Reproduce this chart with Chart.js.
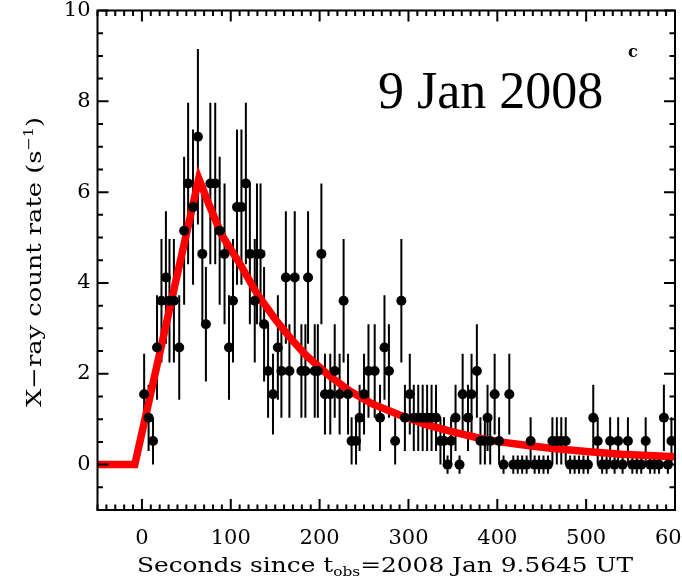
<!DOCTYPE html>
<html>
<head>
<meta charset="utf-8">
<script src="https://cdn.jsdelivr.net/npm/chart.js@4.4.0/dist/chart.umd.min.js"></script>
<style>
  html, body { margin: 0; padding: 0; background: #fff; }
</style>
</head>
<body>
<canvas id="lc" width="682" height="578"></canvas>
<script>
// light curve points (seconds, counts/s)
const timeSec = [2.5, 7.5, 12.5, 17, 22, 27, 31, 36, 42, 47.5, 52, 57.5, 63, 68, 72, 77, 82.5, 87.5, 93, 98,
  102.5, 107, 112, 117, 121.5, 127, 129.5, 133.5, 137.5, 142, 147.5, 153, 157, 162, 166, 172, 179.5, 184, 187, 194.5,
  198, 202, 206, 212, 217, 222.5, 227, 232, 236, 241, 245, 250, 255, 262, 268, 273, 278, 285, 292, 296,
  301.5, 306, 311, 316, 321, 326, 331, 336, 340, 344, 348, 353, 357.5, 361, 367, 371, 377, 381, 386, 389,
  392, 397, 402, 407, 413.5, 418, 423, 428, 433, 437.5, 442, 447, 452, 457, 462, 467, 472, 477, 482, 487,
  492, 497, 502, 508, 513, 518, 523, 527, 532, 536, 541, 547, 552, 557, 562, 567, 572, 577, 582, 587.5,
  592, 596];
const countRate = [1.55, 1.03, 0.52, 2.58, 3.61, 4.12, 3.61, 3.61, 2.58, 5.15, 6.19, 5.67, 7.22, 4.64, 3.09, 6.19, 6.19, 5.15, 4.64, 2.58,
  3.61, 5.67, 5.67, 6.19, 4.64, 3.61, 4.64, 4.64, 3.09, 2.06, 1.55, 2.58, 2.06, 4.12, 2.06, 4.12, 2.06, 2.06, 4.12, 2.06,
  2.06, 4.64, 1.55, 1.55, 2.06, 1.55, 3.61, 1.55, 0.52, 0.52, 1.03, 1.55, 2.06, 2.06, 1.03, 2.58, 2.06, 0.52, 3.61, 1.03,
  1.55, 1.03, 1.03, 1.03, 1.03, 1.03, 1.03, 0.52, 0.52, 0, 0.52, 1.03, 0, 1.55, 1.03, 1.55, 2.06, 0.52, 0.52, 1.03,
  0.52, 1.55, 0.52, 0, 1.55, 0, 0, 0, 0, 0.52, 0, 0, 0, 0, 0.52, 0.52, 0.52, 0.52, 0, 0,
  0, 0, 0, 1.03, 0.52, 0, 0, 0.52, 0, 0.52, 0, 0.52, 0, 0, 0, 0.52, 0, 0, 0, 1.03,
  0, 0.52];

// error bar half-length for each count-rate level
const rateLevels = [0, 0.52, 1.03, 1.55, 2.06, 2.58, 3.09, 3.61, 4.12, 4.64, 5.15, 5.67, 6.19, 7.22];
const rateErrors = [0.2, 0.52, 0.73, 0.89, 1.03, 1.15, 1.26, 1.36, 1.46, 1.55, 1.63, 1.71, 1.78, 1.93];
const binHalfWidth = 3;

// red model curve
const modelTime = [-50, -8, 64, 75, 90, 110, 130, 150, 170, 185, 210, 234, 260, 290, 320, 350, 380, 403, 430, 460, 500, 540, 570, 600];
const modelRate = [0, 0, 6.3, 5.75, 5.05, 4.43, 3.75, 3.2, 2.72, 2.4, 1.97, 1.62, 1.33, 1.09, 0.88, 0.72, 0.58, 0.5, 0.43, 0.36, 0.29, 0.23, 0.2, 0.17];

const xRange = [-50, 600];
const yRange = [-1, 10];

const labelFont = 'DejaVu Serif';

function errFor(rate) {
    let best = 0;
    rateLevels.forEach((lv, i) => {
        if (Math.abs(lv - rate) < Math.abs(rateLevels[best] - rate)) best = i;
    });
    return rateErrors[best];
}

// draws a string with a small raised/lowered part, squeezed to a target width
function drawMixed(ctx, parts, size, targetW) {
    const widths = parts.map(p => {
        ctx.font = (p.small ? size * 0.62 : size) + 'px "' + labelFont + '"';
        return ctx.measureText(p.t).width;
    });
    const total = widths.reduce((a, b) => a + b, 0);
    const sx = targetW / total;
    ctx.scale(sx, 1);
    let x = -total / 2;
    parts.forEach((p, i) => {
        ctx.font = (p.small ? size * 0.62 : size) + 'px "' + labelFont + '"';
        ctx.fillText(p.t, x, p.dy || 0);
        x += widths[i];
    });
}

const framePlugin = {
    id: 'frame',
    beforeDatasetsDraw(chart) {
        const { ctx, scales: { x, y } } = chart;
        ctx.save();
        ctx.strokeStyle = '#000';
        ctx.lineWidth = 2;
        ctx.beginPath();
        timeSec.forEach((t, i) => {
            const px = x.getPixelForValue(t);
            const e = errFor(countRate[i]);
            ctx.moveTo(px, y.getPixelForValue(countRate[i] - e));
            ctx.lineTo(px, y.getPixelForValue(countRate[i] + e));
            const py = y.getPixelForValue(countRate[i]);
            ctx.moveTo(x.getPixelForValue(t - binHalfWidth), py);
            ctx.lineTo(x.getPixelForValue(t + binHalfWidth), py);
        });
        ctx.stroke();
        ctx.restore();
    },
    afterDraw(chart) {
        const { ctx, chartArea: a, scales: { x, y } } = chart;
        ctx.save();
        ctx.strokeStyle = '#000';
        ctx.lineWidth = 2;
        ctx.strokeRect(a.left, a.top, a.right - a.left, a.bottom - a.top);

        // inward ticks on all four sides
        ctx.beginPath();
        for (let v = -50; v <= 600; v += 10) {
            const px = x.getPixelForValue(v);
            const len = v % 100 === 0 ? 11 : 5.5;
            ctx.moveTo(px, a.bottom); ctx.lineTo(px, a.bottom - len);
            ctx.moveTo(px, a.top); ctx.lineTo(px, a.top + len);
        }
        for (let v = -1; v <= 10; v += 0.5) {
            const py = y.getPixelForValue(v);
            const len = v % 2 === 0 ? 11 : 5.5;
            ctx.moveTo(a.left, py); ctx.lineTo(a.left + len, py);
            ctx.moveTo(a.right, py); ctx.lineTo(a.right - len, py);
        }
        ctx.stroke();

        ctx.fillStyle = '#000';
        ctx.textBaseline = 'alphabetic';

        // x title
        ctx.save();
        ctx.translate(385, 572);
        drawMixed(ctx, [
            { t: 'Seconds since t' },
            { t: 'obs', small: true, dy: 4 },
            { t: '=2008 Jan 9.5645 UT' }
        ], 21, 496);
        ctx.restore();

        // y title
        ctx.save();
        ctx.translate(41, 262);
        ctx.rotate(-Math.PI / 2);
        drawMixed(ctx, [
            { t: 'X\u2212ray count rate (s' },
            { t: '\u22121', small: true, dy: -8 },
            { t: ')' }
        ], 21, 290);
        ctx.restore();

        // panel annotations
        ctx.font = '52px "Liberation Serif"';
        ctx.textAlign = 'left';
        ctx.fillText('9 Jan 2008', 378, 108);
        ctx.font = 'bold 16px "' + labelFont + '"';
        ctx.fillText('c', 628, 57);
        ctx.restore();
    }
};

const ctx = document.getElementById('lc').getContext('2d');

new Chart(ctx, {
    type: 'scatter',
    data: {
        datasets: [{
            label: 'X-ray count rate',
            data: timeSec.map((t, i) => ({ x: t, y: countRate[i] })),
            pointRadius: 5,
            pointBackgroundColor: '#000',
            pointBorderWidth: 0
        }, {
            type: 'line',
            label: 'model',
            data: modelTime.map((t, i) => ({ x: t, y: modelRate[i] })),
            borderColor: '#ff0000',
            borderWidth: 7.5,
            pointRadius: 0,
            tension: 0,
            fill: false
        }]
    },
    options: {
        responsive: false,
        animation: false,
        devicePixelRatio: 1,
        layout: {
            padding: { left: 0, right: 7, top: 10.5, bottom: 0 }
        },
        plugins: {
            legend: { display: false },
            tooltip: { enabled: false }
        },
        scales: {
            x: {
                type: 'linear',
                min: xRange[0],
                max: xRange[1],
                grid: { display: false, drawTicks: false },
                border: { display: false },
                ticks: {
                    stepSize: 100,
                    includeBounds: false,
                    autoSkip: false,
                    maxRotation: 0,
                    padding: 16,
                    color: '#000',
                    font: { family: labelFont, size: 21 }
                },
                afterFit(scale) {
                    scale.height = 68;
                    scale.paddingLeft = 0;
                    scale.paddingRight = 0;
                }
            },
            y: {
                min: yRange[0],
                max: yRange[1],
                grid: { display: false, drawTicks: false },
                border: { display: false },
                ticks: {
                    stepSize: 2,
                    includeBounds: false,
                    padding: 7,
                    color: '#000',
                    font: { family: labelFont, size: 21 }
                },
                afterFit(scale) {
                    scale.width = 97.5;
                    scale.paddingTop = 0;
                    scale.paddingBottom = 0;
                }
            }
        }
    },
    plugins: [framePlugin]
});
</script>
</body>
</html>
